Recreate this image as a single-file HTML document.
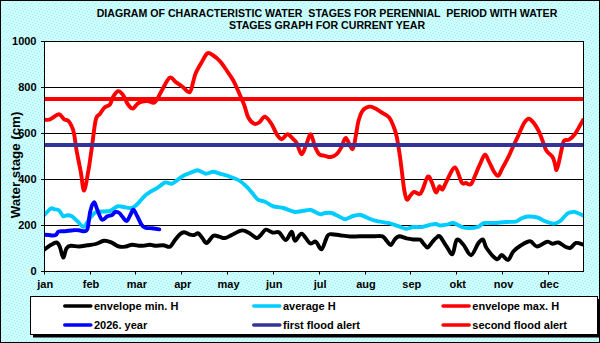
<!DOCTYPE html>
<html><head><meta charset="utf-8"><style>
html,body{margin:0;padding:0;background:#C6FBFD;}
svg{display:block;font-family:"Liberation Sans", sans-serif;}
</style></head><body>
<svg width="600" height="343" viewBox="0 0 600 343">
<defs><pattern id="dots" x="1" y="1" width="8" height="8" patternUnits="userSpaceOnUse"><rect x="0" y="0" width="1" height="1" fill="#B6E6EE"/><rect x="3" y="1" width="1" height="1" fill="#B6E6EE"/><rect x="6" y="2" width="1" height="1" fill="#B6E6EE"/><rect x="1" y="3" width="1" height="1" fill="#B6E6EE"/><rect x="4" y="4" width="1" height="1" fill="#B6E6EE"/><rect x="7" y="5" width="1" height="1" fill="#B6E6EE"/><rect x="2" y="6" width="1" height="1" fill="#B6E6EE"/><rect x="5" y="7" width="1" height="1" fill="#B6E6EE"/></pattern><clipPath id="clip"><rect x="44" y="41" width="540" height="231"/></clipPath></defs>
<rect x="0" y="0" width="600" height="343" fill="#C9FFFF"/>
<rect x="0" y="0" width="600" height="343" fill="url(#dots)"/>
<rect x="0.5" y="0.5" width="599" height="342" fill="none" stroke="#000" stroke-width="1"/>
<rect x="44.5" y="41.5" width="539.0" height="230.0" fill="#fff"/>
<line x1="44.5" y1="225.5" x2="583.5" y2="225.5" stroke="#000" stroke-width="1"/>
<line x1="44.5" y1="179.5" x2="583.5" y2="179.5" stroke="#000" stroke-width="1"/>
<line x1="44.5" y1="133.5" x2="583.5" y2="133.5" stroke="#000" stroke-width="1"/>
<line x1="44.5" y1="87.5" x2="583.5" y2="87.5" stroke="#000" stroke-width="1"/>
<g clip-path="url(#clip)" fill="none" stroke-width="3.9" stroke-linejoin="round" stroke-linecap="round">
<path d="M44.0,250.0 C45.1,249.2 48.6,246.2 50.7,245.0 C52.8,243.8 55.0,242.2 56.5,242.5 C58.0,242.8 58.7,244.2 59.8,246.7 C60.9,249.2 62.1,257.2 63.2,257.5 C64.3,257.8 65.2,250.2 66.5,248.3 C67.8,246.4 68.6,246.1 70.7,245.8 C72.8,245.5 76.2,246.6 79.0,246.5 C81.8,246.4 84.5,245.7 87.3,245.3 C90.1,244.9 92.9,244.8 95.7,244.0 C98.5,243.2 101.5,241.1 104.0,240.8 C106.5,240.5 108.2,241.2 110.7,242.2 C113.2,243.1 116.5,245.8 119.0,246.5 C121.5,247.2 123.5,246.8 125.7,246.5 C127.9,246.2 129.9,244.8 132.3,244.7 C134.7,244.6 137.9,245.7 140.0,245.8 C142.1,245.9 143.3,245.7 145.0,245.5 C146.7,245.3 148.3,244.6 150.0,244.7 C151.7,244.8 152.8,245.7 155.0,245.8 C157.2,245.9 160.8,245.2 163.3,245.3 C165.8,245.5 168.1,247.6 170.0,246.7 C171.9,245.8 173.3,242.1 175.0,240.0 C176.7,237.9 178.5,235.5 180.0,234.2 C181.5,232.9 182.5,232.1 184.2,232.2 C185.9,232.3 188.3,234.2 190.0,234.7 C191.7,235.2 192.8,235.2 194.2,235.0 C195.6,234.8 196.9,232.8 198.3,233.3 C199.7,233.9 201.1,236.7 202.5,238.3 C203.9,239.9 204.9,243.4 206.7,243.0 C208.5,242.6 211.2,236.9 213.3,235.8 C215.4,234.8 217.2,236.3 219.2,236.7 C221.1,237.1 222.9,238.3 225.0,238.0 C227.1,237.7 229.2,236.2 231.7,235.0 C234.2,233.8 237.8,231.5 240.0,230.8 C242.2,230.1 243.2,230.2 245.0,230.8 C246.8,231.4 248.9,233.0 250.8,234.2 C252.8,235.4 255.0,237.9 256.7,238.0 C258.4,238.1 259.3,236.4 260.8,235.0 C262.3,233.6 263.9,230.1 265.8,229.7 C267.8,229.3 270.3,232.0 272.5,232.5 C274.7,233.0 277.0,231.2 279.2,232.5 C281.4,233.8 283.7,240.1 285.8,240.0 C287.9,239.9 290.2,231.6 291.7,231.7 C293.2,231.8 293.3,240.5 295.0,240.8 C296.7,241.1 299.2,233.3 301.7,233.7 C304.2,234.1 307.6,242.0 310.0,243.3 C312.4,244.6 313.9,240.7 315.8,241.7 C317.8,242.7 319.8,250.2 321.7,249.2 C323.6,248.2 325.8,238.3 327.5,235.8 C329.2,233.3 329.6,234.3 331.7,234.2 C333.8,234.1 336.9,234.9 340.0,235.3 C343.1,235.7 346.7,236.3 350.0,236.5 C353.3,236.7 356.1,236.3 360.0,236.3 C363.9,236.3 369.6,236.3 373.3,236.3 C377.1,236.3 380.3,235.6 382.5,236.3 C384.7,237.1 385.3,239.4 386.7,240.8 C388.1,242.2 389.4,245.3 390.8,245.0 C392.2,244.7 393.6,240.6 395.0,239.2 C396.4,237.8 397.2,236.5 399.2,236.3 C401.1,236.2 404.3,237.8 406.7,238.3 C409.1,238.8 411.1,239.3 413.3,239.5 C415.5,239.7 418.3,239.1 420.0,239.7 C421.7,240.3 422.1,242.0 423.3,243.3 C424.6,244.6 426.0,247.8 427.5,247.5 C429.0,247.2 431.0,243.4 432.5,241.7 C434.0,240.0 435.4,238.4 436.7,237.5 C437.9,236.6 438.3,235.0 440.0,236.5 C441.7,238.0 444.6,243.8 446.7,246.7 C448.8,249.6 450.8,255.1 452.5,254.0 C454.2,252.9 454.9,241.6 456.7,240.0 C458.5,238.4 460.9,242.0 463.3,244.5 C465.7,247.0 468.5,255.4 471.0,255.2 C473.5,255.0 476.3,245.9 478.3,243.3 C480.3,240.7 481.6,238.7 483.0,239.5 C484.4,240.3 484.2,244.7 486.5,248.0 C488.8,251.3 494.2,258.0 496.7,259.2 C499.2,260.4 499.8,254.9 501.7,255.0 C503.6,255.1 506.1,260.6 508.0,260.0 C509.9,259.4 511.3,253.8 513.3,251.5 C515.3,249.2 517.2,247.7 520.0,246.0 C522.8,244.3 527.2,241.2 530.0,241.3 C532.8,241.4 534.1,246.4 537.0,246.5 C539.9,246.6 544.5,242.1 547.1,241.7 C549.7,241.2 550.5,243.7 552.4,243.8 C554.3,243.9 556.2,241.9 558.5,242.5 C560.8,243.1 564.4,246.5 566.4,247.3 C568.4,248.2 569.2,248.3 570.8,247.6 C572.4,246.9 574.0,243.4 576.0,242.9 C578.0,242.4 581.8,244.3 583.0,244.6" stroke="#000"/>
<path d="M44.0,215.2 C44.8,214.4 49.8,209.1 51.0,208.4 C52.2,207.7 53.5,209.1 54.5,209.3 C55.5,209.5 58.2,209.7 59.2,210.5 C60.2,211.3 62.3,215.8 63.2,216.3 C64.1,216.8 66.3,215.2 67.3,215.2 C68.3,215.2 70.8,215.6 72.0,216.3 C73.2,217.0 76.4,220.4 77.8,221.6 C79.2,222.8 82.2,227.2 83.6,226.8 C85.0,226.4 88.7,219.6 90.0,218.0 C91.3,216.4 93.6,213.5 94.7,212.8 C95.8,212.1 97.5,211.8 99.3,211.6 C101.1,211.4 107.6,211.6 109.8,211.0 C112.0,210.4 115.7,206.6 118.0,206.3 C120.3,206.0 127.9,208.0 129.7,208.1 C131.5,208.2 132.1,208.2 133.2,207.5 C134.3,206.8 137.6,203.7 139.0,202.3 C140.4,200.9 143.6,197.0 144.8,195.8 C146.0,194.6 148.1,193.2 149.5,192.3 C150.9,191.4 154.9,189.4 156.7,188.3 C158.5,187.2 163.2,183.0 165.0,182.5 C166.8,182.0 170.3,184.0 171.7,183.8 C173.1,183.6 175.3,181.4 176.7,180.5 C178.1,179.6 181.7,176.7 183.3,175.8 C184.9,174.9 188.3,173.6 190.0,173.0 C191.7,172.4 195.7,170.2 197.5,170.3 C199.3,170.4 204.0,173.5 205.8,173.7 C207.6,173.9 211.4,171.6 213.3,171.7 C215.2,171.8 219.8,173.6 221.7,174.2 C223.6,174.8 227.9,175.9 230.0,176.7 C232.1,177.5 237.9,179.6 240.0,181.0 C242.1,182.4 246.3,186.2 248.3,188.3 C250.3,190.4 255.6,197.6 257.5,199.2 C259.4,200.8 263.2,200.9 265.0,201.7 C266.8,202.5 271.2,205.6 273.3,206.3 C275.4,207.0 280.8,207.3 283.3,208.0 C285.8,208.7 292.7,211.7 295.0,212.0 C297.3,212.3 301.5,211.0 303.3,210.8 C305.1,210.6 308.9,209.6 310.8,210.0 C312.7,210.4 318.3,213.8 320.0,214.2 C321.7,214.5 323.6,213.1 325.0,213.0 C326.4,212.9 329.9,212.5 331.7,213.0 C333.4,213.5 338.4,216.3 340.0,217.0 C341.6,217.7 343.5,219.3 345.0,219.2 C346.5,219.1 351.2,216.5 353.0,216.0 C354.8,215.5 358.8,214.7 360.8,215.0 C362.8,215.3 368.1,218.3 370.0,219.0 C371.9,219.7 374.7,220.7 377.0,221.2 C379.3,221.7 387.5,222.7 390.0,223.3 C392.5,223.9 396.5,225.6 398.3,226.2 C400.1,226.8 404.1,228.6 405.8,228.7 C407.6,228.8 411.4,227.2 413.3,227.0 C415.2,226.8 419.8,227.3 421.7,227.0 C423.6,226.7 428.3,225.2 430.0,224.8 C431.7,224.5 434.8,223.9 436.0,224.0 C437.2,224.1 438.8,225.4 440.0,225.5 C441.2,225.6 445.1,225.0 446.7,224.7 C448.3,224.4 451.4,222.7 453.3,223.0 C455.2,223.3 461.2,226.9 463.3,227.5 C465.4,228.1 469.9,228.1 471.7,228.0 C473.4,227.9 476.8,227.3 478.3,226.7 C479.8,226.1 482.3,223.4 484.2,223.0 C486.1,222.6 492.4,223.1 495.0,223.0 C497.6,222.9 504.3,222.2 506.7,222.0 C509.1,221.8 514.0,222.1 515.8,221.7 C517.5,221.3 520.3,218.9 521.7,218.3 C523.1,217.7 526.2,216.6 528.0,216.5 C529.8,216.4 535.6,217.0 537.5,217.5 C539.4,218.0 542.7,220.3 544.5,221.0 C546.3,221.7 551.5,223.6 553.3,223.6 C555.1,223.6 558.7,222.2 560.3,221.0 C561.9,219.8 565.7,214.8 567.3,213.7 C568.9,212.6 572.5,211.7 574.3,211.9 C576.1,212.1 582.0,215.0 583.0,215.4" stroke="#00CCFF"/>
<path d="M44.0,119.7 C44.8,119.7 47.6,120.0 49.0,119.7 C50.4,119.4 50.6,118.9 52.3,118.0 C54.0,117.1 57.0,114.0 59.0,114.2 C61.0,114.4 62.5,118.1 64.0,119.2 C65.5,120.3 67.0,119.7 68.2,120.8 C69.5,121.9 70.5,123.7 71.5,125.8 C72.5,127.9 73.2,129.3 74.0,133.3 C74.8,137.3 75.4,143.6 76.5,150.0 C77.6,156.4 79.5,164.9 80.7,171.7 C82.0,178.5 82.8,190.6 84.0,190.6 C85.2,190.6 87.0,178.5 88.2,171.7 C89.5,164.9 90.2,158.6 91.5,150.0 C92.8,141.4 94.3,126.0 95.7,120.0 C97.1,114.0 98.5,115.9 100.0,113.8 C101.5,111.7 103.0,109.0 104.7,107.4 C106.4,105.9 108.5,106.3 109.9,104.5 C111.4,102.7 112.0,98.5 113.4,96.3 C114.8,94.1 116.5,91.4 118.1,91.1 C119.7,90.8 121.1,92.4 122.8,94.6 C124.5,96.8 126.3,102.2 128.0,104.5 C129.7,106.8 131.1,108.7 132.7,108.6 C134.2,108.5 135.8,105.1 137.3,103.9 C138.9,102.7 140.2,102.1 142.0,101.6 C143.8,101.1 145.9,100.8 147.8,101.0 C149.8,101.2 152.1,103.1 153.7,102.8 C155.3,102.5 155.8,101.3 157.2,99.3 C158.5,97.2 159.7,94.1 161.8,90.5 C163.9,86.9 167.4,79.1 169.7,77.7 C172.0,76.3 173.7,80.7 175.8,82.2 C177.9,83.7 180.2,85.0 182.5,86.7 C184.8,88.4 187.9,93.1 189.7,92.2 C191.5,91.3 192.3,84.5 193.3,81.3 C194.3,78.1 194.4,76.2 195.8,73.0 C197.2,69.8 199.8,65.5 201.7,62.2 C203.6,58.9 205.6,54.4 207.5,53.3 C209.4,52.2 211.2,54.2 213.3,55.5 C215.4,56.8 217.8,58.8 220.0,61.3 C222.2,63.8 224.5,67.3 226.7,70.5 C228.9,73.7 231.4,77.0 233.3,80.5 C235.2,84.0 236.5,87.2 238.3,91.3 C240.1,95.4 242.5,100.6 244.2,105.0 C245.9,109.4 246.6,114.4 248.3,117.5 C250.0,120.6 252.4,122.9 254.2,123.7 C256.0,124.5 257.4,123.7 259.2,122.5 C261.0,121.3 262.9,116.4 265.0,116.7 C267.1,117.0 269.8,121.3 271.7,124.2 C273.6,127.1 275.0,131.7 276.7,134.2 C278.4,136.7 279.9,139.2 281.7,139.2 C283.5,139.2 285.6,134.2 287.5,134.2 C289.4,134.2 291.8,137.7 293.3,139.2 C294.8,140.7 295.3,140.5 296.7,143.0 C298.1,145.5 300.0,154.1 301.7,154.2 C303.4,154.2 305.2,146.6 306.7,143.3 C308.2,140.0 309.4,133.6 310.8,134.2 C312.2,134.8 313.6,143.4 315.0,146.7 C316.4,150.0 317.5,152.7 319.2,154.2 C320.9,155.7 323.1,155.3 325.0,155.8 C326.9,156.3 328.9,157.3 330.8,157.0 C332.8,156.7 334.9,155.9 336.7,154.2 C338.5,152.5 340.2,149.4 341.7,146.7 C343.2,144.0 344.0,137.6 345.8,138.0 C347.6,138.4 350.8,149.6 352.5,149.2 C354.2,148.8 354.8,140.4 355.8,135.8 C356.8,131.2 357.2,125.9 358.3,121.7 C359.4,117.5 360.7,113.3 362.5,110.8 C364.3,108.3 367.1,107.1 369.2,106.7 C371.3,106.3 372.9,107.3 375.0,108.3 C377.1,109.3 379.3,111.0 381.7,112.5 C384.1,114.0 387.3,115.3 389.2,117.5 C391.1,119.7 392.1,122.6 393.3,125.8 C394.6,129.0 395.6,131.5 396.7,136.7 C397.8,141.8 399.0,150.0 400.0,156.7 C401.0,163.4 401.8,171.1 402.5,176.7 C403.2,182.3 403.6,186.6 404.3,190.4 C405.0,194.2 405.8,198.8 406.8,199.6 C407.8,200.4 409.2,196.8 410.4,195.5 C411.6,194.2 412.5,192.2 414.0,191.9 C415.5,191.7 418.2,194.4 419.6,194.0 C421.1,193.6 421.3,192.3 422.7,189.4 C424.1,186.5 426.3,177.8 427.8,176.6 C429.3,175.4 430.5,179.6 431.8,182.2 C433.1,184.8 434.6,191.7 435.9,192.4 C437.2,193.1 438.4,186.8 439.5,186.3 C440.6,185.8 441.3,190.4 442.6,189.4 C443.9,188.4 445.0,183.8 447.1,180.2 C449.2,176.5 452.6,167.1 455.0,167.5 C457.4,167.9 459.9,179.9 461.7,182.5 C463.5,185.1 464.3,182.7 465.8,183.0 C467.3,183.3 469.3,185.4 470.8,184.2 C472.3,183.0 473.5,179.1 475.0,175.8 C476.5,172.5 478.3,167.7 480.0,164.2 C481.7,160.7 483.5,155.1 485.0,154.7 C486.5,154.3 487.5,158.9 489.0,161.7 C490.5,164.5 492.5,169.3 494.0,171.7 C495.5,174.0 496.8,176.4 498.2,175.8 C499.6,175.2 500.8,171.1 502.3,168.3 C503.8,165.5 505.6,162.5 507.3,159.2 C509.0,155.9 510.5,152.2 512.3,148.3 C514.1,144.4 516.2,140.0 518.2,135.8 C520.2,131.6 522.2,126.2 524.0,123.3 C525.8,120.4 527.0,118.7 528.7,118.7 C530.4,118.7 532.3,121.1 534.0,123.3 C535.7,125.5 537.5,128.5 539.0,131.7 C540.5,134.9 542.0,139.3 543.2,142.5 C544.5,145.7 545.0,148.4 546.5,150.8 C548.0,153.2 550.9,154.6 552.3,156.7 C553.7,158.8 554.1,161.1 554.8,163.3 C555.5,165.5 555.8,170.3 556.5,170.0 C557.2,169.7 558.2,165.0 559.0,161.7 C559.8,158.4 560.7,153.5 561.5,150.0 C562.3,146.5 562.8,142.5 564.0,140.8 C565.2,139.1 567.2,140.8 569.0,139.7 C570.8,138.6 573.0,136.5 574.8,134.2 C576.6,131.9 578.4,128.2 579.8,125.8 C581.2,123.4 582.5,121.0 583.0,120.0" stroke="#FF0000"/>
<path d="M44.0,234.8 C44.8,234.8 47.3,234.9 48.7,235.0 C50.1,235.1 51.0,235.5 52.2,235.5 C53.4,235.5 54.9,235.5 56.0,234.8 C57.1,234.1 57.1,232.1 58.6,231.5 C60.1,230.9 62.6,231.4 65.0,231.2 C67.4,231.0 70.8,230.3 73.1,230.2 C75.4,230.0 77.0,230.1 79.0,230.3 C81.0,230.5 83.3,231.6 84.8,231.2 C86.2,230.8 86.8,231.2 87.7,228.0 C88.6,224.8 89.2,216.0 90.2,211.7 C91.2,207.4 92.8,202.6 94.0,202.3 C95.2,202.0 96.0,206.8 97.3,209.7 C98.6,212.6 100.3,218.6 102.0,219.7 C103.7,220.8 105.6,217.1 107.3,216.3 C109.0,215.5 110.7,215.7 112.0,215.0 C113.3,214.3 114.1,212.3 115.3,212.0 C116.5,211.7 118.1,212.2 119.3,213.0 C120.5,213.8 121.5,215.7 122.7,217.0 C123.9,218.3 125.4,221.4 126.7,221.0 C128.0,220.6 129.6,216.2 130.7,214.3 C131.8,212.4 132.2,209.4 133.3,209.7 C134.4,210.0 136.0,213.9 137.3,216.3 C138.6,218.7 140.0,222.4 141.3,224.3 C142.6,226.2 143.5,227.0 145.3,227.7 C147.1,228.4 149.7,228.0 152.0,228.3 C154.3,228.6 158.1,229.2 159.3,229.4" stroke="#0000FF"/>
</g>
<line x1="44.5" y1="145" x2="583.5" y2="145" stroke="#333399" stroke-width="4"/>
<line x1="44.5" y1="99" x2="583.5" y2="99" stroke="#FF0000" stroke-width="4"/>
<rect x="44.5" y="41.5" width="539.0" height="230.0" fill="none" stroke="#000" stroke-width="1"/>
<line x1="41" y1="271.5" x2="44.5" y2="271.5" stroke="#000" stroke-width="1"/>
<text x="36.5" y="274.5" text-anchor="end" font-size="11" font-weight="bold">0</text>
<line x1="41" y1="225.5" x2="44.5" y2="225.5" stroke="#000" stroke-width="1"/>
<text x="36.5" y="228.5" text-anchor="end" font-size="11" font-weight="bold">200</text>
<line x1="41" y1="179.5" x2="44.5" y2="179.5" stroke="#000" stroke-width="1"/>
<text x="36.5" y="182.5" text-anchor="end" font-size="11" font-weight="bold">400</text>
<line x1="41" y1="133.5" x2="44.5" y2="133.5" stroke="#000" stroke-width="1"/>
<text x="36.5" y="136.5" text-anchor="end" font-size="11" font-weight="bold">600</text>
<line x1="41" y1="87.5" x2="44.5" y2="87.5" stroke="#000" stroke-width="1"/>
<text x="36.5" y="90.5" text-anchor="end" font-size="11" font-weight="bold">800</text>
<line x1="41" y1="41.5" x2="44.5" y2="41.5" stroke="#000" stroke-width="1"/>
<text x="36.5" y="44.5" text-anchor="end" font-size="11" font-weight="bold">1000</text>
<line x1="44.5" y1="271.5" x2="44.5" y2="274.5" stroke="#000" stroke-width="1"/>
<text x="45.2" y="288" text-anchor="middle" font-size="11" font-weight="bold">jan</text>
<line x1="90.5" y1="271.5" x2="90.5" y2="274.5" stroke="#000" stroke-width="1"/>
<text x="91.0" y="288" text-anchor="middle" font-size="11" font-weight="bold">feb</text>
<line x1="135.5" y1="271.5" x2="135.5" y2="274.5" stroke="#000" stroke-width="1"/>
<text x="136.9" y="288" text-anchor="middle" font-size="11" font-weight="bold">mar</text>
<line x1="181.5" y1="271.5" x2="181.5" y2="274.5" stroke="#000" stroke-width="1"/>
<text x="182.7" y="288" text-anchor="middle" font-size="11" font-weight="bold">apr</text>
<line x1="227.5" y1="271.5" x2="227.5" y2="274.5" stroke="#000" stroke-width="1"/>
<text x="228.5" y="288" text-anchor="middle" font-size="11" font-weight="bold">may</text>
<line x1="273.5" y1="271.5" x2="273.5" y2="274.5" stroke="#000" stroke-width="1"/>
<text x="274.3" y="288" text-anchor="middle" font-size="11" font-weight="bold">jun</text>
<line x1="319.5" y1="271.5" x2="319.5" y2="274.5" stroke="#000" stroke-width="1"/>
<text x="320.2" y="288" text-anchor="middle" font-size="11" font-weight="bold">jul</text>
<line x1="365.5" y1="271.5" x2="365.5" y2="274.5" stroke="#000" stroke-width="1"/>
<text x="366.0" y="288" text-anchor="middle" font-size="11" font-weight="bold">aug</text>
<line x1="410.5" y1="271.5" x2="410.5" y2="274.5" stroke="#000" stroke-width="1"/>
<text x="411.8" y="288" text-anchor="middle" font-size="11" font-weight="bold">sep</text>
<line x1="456.5" y1="271.5" x2="456.5" y2="274.5" stroke="#000" stroke-width="1"/>
<text x="457.7" y="288" text-anchor="middle" font-size="11" font-weight="bold">okt</text>
<line x1="502.5" y1="271.5" x2="502.5" y2="274.5" stroke="#000" stroke-width="1"/>
<text x="503.5" y="288" text-anchor="middle" font-size="11" font-weight="bold">nov</text>
<line x1="548.5" y1="271.5" x2="548.5" y2="274.5" stroke="#000" stroke-width="1"/>
<text x="549.3" y="288" text-anchor="middle" font-size="11" font-weight="bold">dec</text>
<text transform="translate(20,165) rotate(-90)" text-anchor="middle" font-size="13.3" font-weight="bold">Water stage (cm)</text>
<text x="327" y="17" text-anchor="middle" font-size="10.6" font-weight="bold" xml:space="preserve">DIAGRAM OF CHARACTERISTIC WATER  STAGES FOR PERENNIAL  PERIOD WITH WATER</text>
<text x="327" y="29" text-anchor="middle" font-size="10.6" font-weight="bold">STAGES GRAPH FOR CURRENT YEAR</text>
<rect x="33" y="299" width="566" height="38.5" fill="#000"/>
<rect x="30.5" y="296.5" width="567" height="38" fill="#fff" stroke="#000" stroke-width="1"/>
<line x1="64.8" y1="306" x2="90.8" y2="306" stroke="#000" stroke-width="3.6" stroke-linecap="round"/>
<text x="94" y="310" font-size="11" font-weight="bold">envelope min. H</text>
<line x1="253.8" y1="306" x2="279.8" y2="306" stroke="#00CCFF" stroke-width="3.6" stroke-linecap="round"/>
<text x="283" y="310" font-size="11" font-weight="bold">average H</text>
<line x1="443.1" y1="306" x2="469.1" y2="306" stroke="#FF0000" stroke-width="3.6" stroke-linecap="round"/>
<text x="472.3" y="310" font-size="11" font-weight="bold">envelope max. H</text>
<line x1="64.8" y1="325" x2="90.8" y2="325" stroke="#0000FF" stroke-width="3.6" stroke-linecap="round"/>
<text x="94" y="329" font-size="11" font-weight="bold">2026. year</text>
<line x1="253.8" y1="325" x2="279.8" y2="325" stroke="#333399" stroke-width="3.6" stroke-linecap="round"/>
<text x="283" y="329" font-size="11" font-weight="bold">first flood alert</text>
<line x1="443.1" y1="325" x2="469.1" y2="325" stroke="#FF0000" stroke-width="3.6" stroke-linecap="round"/>
<text x="472.3" y="329" font-size="11" font-weight="bold">second flood alert</text>
</svg>
</body></html>
